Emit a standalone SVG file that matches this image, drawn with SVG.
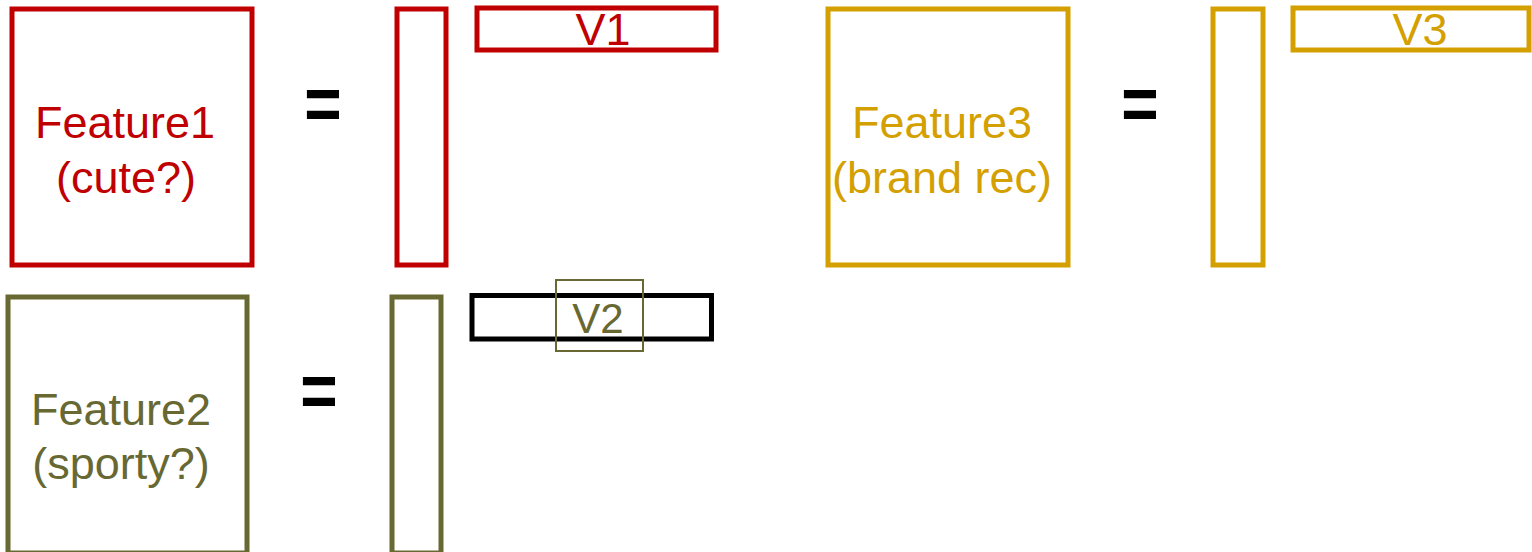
<svg xmlns="http://www.w3.org/2000/svg" width="1532" height="552" viewBox="0 0 1532 552">
<style>
.box{fill:none;stroke-width:5}
.red{stroke:#C00000}
.olive{stroke:#686832}
.gold{stroke:#D4A000}
.t{font-family:"Liberation Sans",Arial,sans-serif;font-size:45px;text-anchor:middle}
.tr{fill:#C00000}
.to{fill:#686832}
.tg{fill:#D4A000}
.eq{font-family:"Liberation Sans",Arial,sans-serif;font-size:64px;font-weight:bold;text-anchor:middle;fill:#000}
</style>
<rect width="1532" height="552" fill="#fff"/>
<g id="feature1">
<rect class="box red" x="12" y="9" width="240" height="256"/>
<text class="t tr" x="125" y="138">Feature1</text>
<text class="t tr" x="126" y="193">(cute?)</text>
</g>
<g id="eq1"><text class="eq" x="323" y="0" transform="translate(0,130) scale(1,1.2)">=</text></g>
<g id="u1"><rect class="box red" x="397" y="9" width="49" height="256"/></g>
<g id="v1">
<rect class="box red" x="477" y="8" width="239" height="42"/>
<text class="t tr" x="603" y="45">V1</text>
</g>
<g id="feature3">
<rect class="box gold" x="828" y="9" width="240" height="256"/>
<text class="t tg" x="942" y="138">Feature3</text>
<text class="t tg" x="942" y="193">(brand rec)</text>
</g>
<g id="eq3"><text class="eq" x="1140" y="0" transform="translate(0,130) scale(1,1.2)">=</text></g>
<g id="u3"><rect class="box gold" x="1213" y="9" width="50" height="256"/></g>
<g id="v3">
<rect class="box gold" x="1293" y="8" width="236" height="42"/>
<text class="t tg" x="1420" y="45">V3</text>
</g>
<g id="feature2">
<rect class="box olive" x="8" y="297" width="239" height="256"/>
<text class="t to" x="121" y="425">Feature2</text>
<text class="t to" x="121" y="479">(sporty?)</text>
</g>
<g id="eq2"><text class="eq" x="319" y="0" transform="translate(0,417) scale(1,1.2)">=</text></g>
<g id="u2"><rect class="box olive" x="392" y="297" width="49" height="256"/></g>
<g id="v2">
<rect class="box" stroke="#000" x="472" y="295.5" width="239.5" height="43.5"/>
<rect fill="none" stroke="#686832" stroke-width="2" x="556" y="280" width="87" height="71"/>
<text class="t to" x="598" y="333" style="font-size:42px">V2</text>
</g>
<g id="connectors"></g>
</svg>
